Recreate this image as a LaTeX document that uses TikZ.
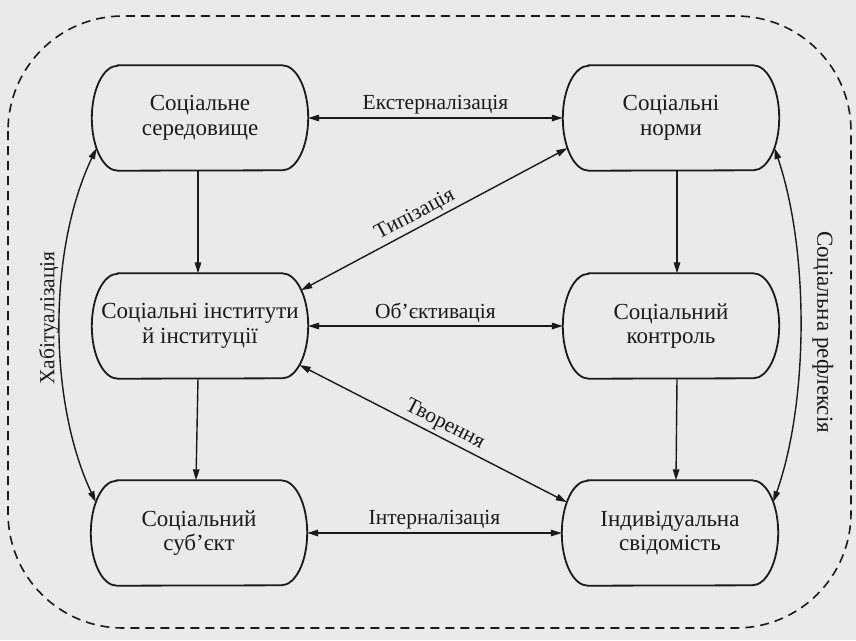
\documentclass[tikz,border=0pt]{standalone}
\usepackage{fontspec}
\setmainfont{Liberation Serif}
\usetikzlibrary{arrows.meta,calc}
\definecolor{ink}{HTML}{1A1A1A}
\definecolor{paper}{HTML}{EAEAEA}
\begin{document}
\begin{tikzpicture}[x=1pt,y=-1pt,
  stadium/.style={rectangle, minimum width=216pt, minimum height=105pt,
    inner sep=0pt, align=center, text=ink, font=\fontsize{23}{24.5}\selectfont},
  outline/.style={line width=1.8pt, draw=ink},
  tip/.tip={Triangle[length=11pt,width=6.5pt]},
  link/.style={line width=1.4pt, draw=ink, tip-tip},
  flow/.style={line width=1.4pt, draw=ink, -tip},
  lbl/.style={font=\fontsize{21.5}{24}\selectfont, text=ink, inner sep=3pt},
  frame/.style={line width=1.6pt, dash pattern=on 9pt off 6pt, draw=ink}
]
\fill[paper] (0,0) rectangle (856,640);
\useasboundingbox (0,0) rectangle (856,640);

% outer dashed boundary
\draw[frame, rounded corners=115pt] (8,16) rectangle (851,628);

% the six blocks
\node[stadium] (A) at (200,118) {Соціальне\\середовище};
\node[stadium] (B) at (671,118) {Соціальні\\норми};
\node[stadium] (C) at (200,326) {Соціальні інститути\\й інституції};
\node[stadium] (D) at (671,326) {Соціальний\\контроль};
\node[stadium] (E) at (199,533) {Соціальний\\суб’єкт};
\node[stadium] (F) at (670,533) {Індивідуальна\\свідомість};

% block outlines with half-elliptic ends
\foreach \n in {A,B,C,D,E,F}
  \draw[outline] ([xshift=26pt]\n.north west) -- ([xshift=-26pt]\n.north east)
    arc[start angle=90,end angle=-90,x radius=26pt,y radius=52.5pt]
    -- ([xshift=26pt]\n.south west)
    arc[start angle=270,end angle=90,x radius=26pt,y radius=52.5pt] -- cycle;

% points on the curved ends
\coordinate (Aw) at ($([xshift=26pt]A.west)+(215:26pt and 52.5pt)$);
\coordinate (Ew) at ($([xshift=26pt]E.west)+(144:26pt and 52.5pt)$);
\coordinate (Be) at ($([xshift=-26pt]B.east)+(-35:26pt and 52.5pt)$);
\coordinate (Fe) at ($([xshift=-26pt]F.east)+(36:26pt and 52.5pt)$);
\coordinate (Cne) at ($([xshift=-26pt]C.east)+(43:26pt and 52.5pt)$);
\coordinate (Bsw) at ($([xshift=26pt]B.west)+(215:26pt and 52.5pt)$);
\coordinate (Cse) at ($([xshift=-26pt]C.east)+(-48:26pt and 52.5pt)$);
\coordinate (Fnw) at ($([xshift=26pt]F.west)+(144:26pt and 52.5pt)$);

% horizontal links
\draw[link] (A.east) -- node[lbl, above] {Екстерналізація} (B.west);
\draw[link] (C.east) -- node[lbl, above] {Об’єктивація} (D.west);
\draw[link] (E.east) -- node[lbl, above] {Інтерналізація} (F.west);

% vertical flows
\draw[flow] ([xshift=-2pt]A.south) -- ([xshift=-2pt]C.north);
\draw[flow] ([xshift=-2pt]C.south) -- ([xshift=-3pt]E.north);
\draw[flow] ([xshift=6pt]B.south) -- ([xshift=6pt]D.north);
\draw[flow] ([xshift=6pt]D.south) -- ([xshift=6pt]F.north);

% diagonals
\draw[link] (Cne) -- node[lbl, pos=0.45, sloped, above] {Типізація} (Bsw);
\draw[link] (Cse) -- node[lbl, pos=0.52, sloped, above] {Творення} (Fnw);

% side arcs and their labels
\draw[link] (Ew) .. controls (48,400) and (48,250) .. (Aw);
\node[lbl, rotate=90] (hab) at (49,318) {Хабітуалізація};
\draw[link] (Be) .. controls (809,250) and (809,400) .. (Fe);
\node[lbl, rotate=-90, font=\fontsize{23}{24}\selectfont] (refl) at (823,332) {Соціальна рефлексія};
\end{tikzpicture}
\end{document}
